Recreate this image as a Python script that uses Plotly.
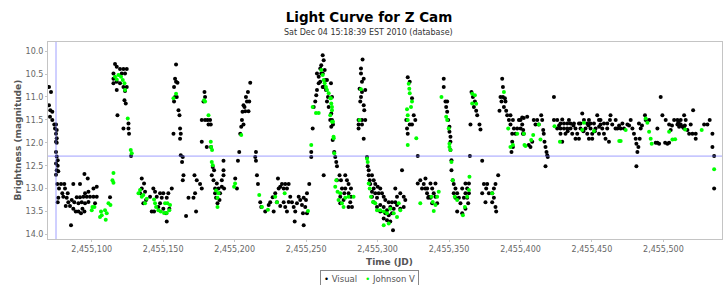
import plotly.graph_objects as go

# ---------------- data ----------------
JD_BASE = 2455000
title_text = "Light Curve for Z Cam"
subtitle_text = "Sat Dec 04 15:18:39 EST 2010 (database)"
series_names = ["Visual", "Johnson V"]
x_tick_start = 2455100
x_tick_step = 50
crosshair_jd = 2455075.0
crosshair_mag = 12.29

# (JD - 2455000, magnitude)
visual_points = [
    (70.1,10.78),(71.5,10.89),(70.1,11.18),(71.0,11.29),(72.4,11.32),(70.8,11.43),(72.4,11.50),(73.8,11.60),(75.0,11.60),(74.3,11.69),
    (75.5,11.72),(75.0,11.80),(75.5,11.90),(75.0,11.98),(75.5,12.00),(75.0,12.20),(75.5,12.30),(76.2,12.38),(75.0,12.45),(76.2,12.50),
    (75.5,12.60),(75.0,12.70),(76.6,12.62),
    (75.9,12.90),(78.5,12.90),(80.8,12.90),(87.1,12.90),(91.8,12.90),(94.9,12.68),(97.2,12.78),(77.1,13.00),(81.3,13.00),(79.4,13.10),
    (83.2,13.10),(76.6,13.20),(80.1,13.18),(82.5,13.20),(76.2,13.30),(83.6,13.30),(86.0,13.25),(89.5,13.19),(91.8,13.19),(94.2,13.18),
    (96.5,13.18),(98.8,13.18),(101.2,13.18),(103.5,13.18),(97.7,13.07),(101.2,13.00),(103.5,12.96),(95.3,13.10),(81.8,13.38),(84.8,13.38),
    (87.8,13.30),(90.7,13.32),(93.0,13.30),(95.3,13.32),(97.7,13.29),(87.1,13.44),(88.8,13.50),(90.7,13.50),(92.5,13.54),(94.9,13.50),
    (93.5,13.44),(85.5,13.80),(112.8,13.19),(102.3,13.32),
    (116.3,10.28),(117.5,10.34),(119.8,10.39),(122.2,10.39),(124.5,10.39),(115.2,10.49),(121.0,10.49),(123.3,10.49),(115.2,10.60),
    (117.5,10.67),(115.2,10.70),(119.8,10.70),(122.2,10.78),(124.5,10.78),(117.5,10.85),(123.3,10.87),(122.9,11.07),(123.8,11.14),
    (118.0,11.40),(125.7,11.58),(122.2,11.69),(125.7,11.69),(126.1,11.80),(127.5,12.29),
    (135.0,12.78),(136.6,12.89),(135.0,13.00),(137.3,13.07),(133.8,13.10),(138.0,13.25),(136.1,13.32),(143.1,13.00),(144.3,13.07),
    (140.8,13.18),(145.5,13.18),(147.8,13.10),(149.0,13.20),(150.1,13.10),(152.5,13.20),(153.6,13.10),(156.0,13.00),(142.0,13.50),
    (143.6,13.50),(146.6,13.40),(150.1,13.44),(152.0,13.54),(152.5,13.72),(154.3,13.44),(147.8,13.32),
    (159.0,10.29),(158.3,10.60),(159.0,10.67),(157.6,10.78),(160.0,10.69),(158.3,11.00),(159.5,11.00),(157.6,11.10),(160.7,11.29),
    (161.4,11.40),(157.2,11.80),(161.8,11.69),(162.3,11.80),(161.8,11.91),(162.3,12.27),(163.7,12.31),(163.2,12.42),(164.2,12.71),
    (163.7,12.82),(167.7,13.20),(166.0,13.60),(171.9,12.71),(173.5,12.82),(175.8,12.90),(177.0,13.00),(172.3,13.10),(171.2,13.20),
    (173.0,13.50),
    (178.9,10.89),(179.3,11.00),(178.2,11.10),(177.0,11.50),(179.3,11.50),(181.0,11.50),(182.8,11.50),(181.7,11.60),(183.3,11.60),
    (177.0,11.98),(180.5,12.09),(183.5,12.09),(184.7,12.53),(184.0,12.71),(185.6,12.60),(185.2,12.82),(187.5,12.89),(186.3,13.00),
    (188.7,13.00),(186.3,13.10),(189.8,13.10),(187.0,13.20),(189.4,13.25),(191.0,12.82),(192.2,12.60),(192.2,12.39),(192.6,13.00),
    (192.2,12.71),(191.0,12.96),(188.0,13.32),
    (201.6,13.00),(200.4,12.78),(202.3,12.39),(203.2,12.20),(203.9,11.80),(204.6,11.65),(205.1,11.50),(206.2,11.60),(205.5,11.32),
    (207.4,11.31),(209.7,11.31),(206.9,11.22),(208.6,11.10),(210.2,11.10),(207.9,11.00),(209.3,10.89),(210.9,10.69),(206.2,11.18),
    (214.9,12.20),(214.4,12.31),(214.9,12.39),(215.6,12.71),(216.3,12.90),(217.9,13.30),(218.6,13.40),(221.4,13.50),(227.3,13.50),
    (223.8,13.36),(224.9,13.30),(226.6,13.19),(228.4,13.10),(230.3,12.78),(230.8,13.00),(231.9,12.96),(233.1,12.90),(234.3,13.00),
    (235.4,12.90),(236.6,13.00),(237.8,12.90),(229.6,13.30),(231.9,13.38),(234.3,13.30),(235.4,13.40),(236.6,13.50),(237.8,13.29),
    (238.9,13.18),(240.1,13.30),(241.3,13.40),(242.0,13.72),(242.4,13.50),(243.6,13.32),(244.8,13.18),(245.9,13.25),(247.1,13.36),
    (247.8,13.54),(248.3,13.80),(249.4,13.40),(249.9,13.25),(250.6,13.10),(252.2,12.90),(250.6,13.54),(248.3,13.20),
    (253.6,12.20),(254.6,11.69),(255.3,11.22),(256.4,11.10),(257.1,10.96),(257.6,10.85),(257.6,10.49),(258.8,10.56),(258.8,10.70),
    (259.9,10.38),(260.6,10.31),(261.6,10.09),(262.3,10.20),(261.6,10.49),(263.0,10.41),(263.4,10.63),(262.3,10.78),(259.9,10.67),
    (264.6,10.63),(260.6,10.49),(261.6,10.78),(263.9,10.85),(265.3,11.00),(264.6,11.10),(265.8,11.22),(266.9,11.50),(267.6,11.65),
    (262.3,12.71),(253.6,12.31),(268.6,11.94),
    (267.4,10.70),(268.1,11.00),(267.6,11.36),(268.1,11.50),(268.8,11.60),(269.7,12.20),(270.4,12.31),(271.1,12.42),(271.6,12.51),
    (273.4,12.71),(271.6,12.82),(274.4,12.82),(277.4,12.71),(278.6,12.82),(279.7,12.90),(281.4,13.00),(277.4,13.00),(275.1,13.00),
    (276.7,13.10),(279.7,13.10),(281.4,13.18),(273.9,13.18),(276.2,13.25),(280.9,13.30),(279.7,13.40),(282.1,13.40),(273.9,13.32),
    (289.5,10.18),(288.4,10.38),(288.4,10.49),(290.3,10.60),(289.1,10.67),(287.4,10.82),(289.1,10.89),(291.4,10.85),(288.4,11.00),
    (287.9,11.10),(290.3,11.18),(290.7,11.29),(286.7,11.50),(289.1,11.50),(291.4,11.50),(286.7,11.60),(289.1,11.60),(286.7,11.69),
    (290.3,11.91),
    (292.6,12.31),(293.1,12.51),(293.8,12.60),(293.8,12.71),(294.5,12.82),(294.9,12.90),(296.1,12.71),(297.3,12.82),(298.4,12.90),
    (297.3,13.00),(300.1,12.96),(301.9,13.00),(296.1,13.07),(298.4,13.10),(300.8,13.10),(303.1,13.10),(296.1,13.18),(299.6,13.20),
    (304.3,13.18),(305.4,13.25),(307.8,13.30),(310.1,13.30),(312.4,13.30),(313.6,13.18),(312.4,13.00),(315.9,13.10),(318.3,13.18),
    (319.4,13.25),(297.3,13.30),(299.6,13.40),(301.9,13.36),(304.3,13.40),(306.6,13.47),(308.9,13.40),(311.3,13.44),(313.6,13.36),
    (315.9,13.44),(318.3,13.40),(301.9,13.50),(305.4,13.54),(307.8,13.58),(310.1,13.54),(306.6,13.69),(308.9,13.72),(310.8,13.91),
    (304.3,13.65),(317.1,12.60),
    (321.1,10.57),(322.5,10.67),(320.1,11.50),(320.6,11.69),(322.5,11.60),(324.1,11.60),(326.4,11.50),(325.3,11.40),(324.1,11.03),
    (321.1,11.80),(328.1,12.29),(328.1,12.89),(329.9,12.82),(332.3,12.90),(333.4,13.00),(331.1,13.00),(334.6,13.10),(335.8,13.18),
    (333.5,12.78),(334.7,13.00),(337.0,12.89),(338.2,13.00),(339.3,13.10),(340.5,12.89),(337.0,13.20),(338.2,13.32),(340.5,13.18),
    (335.4,13.20),(341.7,13.32),
    (346.3,10.60),(346.3,10.78),(347.5,11.10),(348.7,11.10),(348.0,11.22),(348.7,11.32),(349.4,11.50),(350.3,11.65),(350.3,11.76),
    (351.0,11.87),(351.0,11.98),(351.0,12.16),(351.7,12.38),(351.7,12.60),(352.6,12.82),(353.3,12.90),(354.5,13.00),(353.3,13.10),
    (355.7,13.10),(354.5,13.20),(356.9,13.20),(355.7,13.50),(358.0,13.32),(359.2,13.00),(361.5,12.89),(362.7,13.00),(363.9,12.89),
    (361.5,13.10),(363.9,13.10),(360.4,13.20),(362.7,13.20),(361.5,13.44),(359.2,13.54),(363.4,13.32),
    (365.7,10.89),(366.7,11.00),(368.1,11.10),(367.4,11.22),(369.0,11.30),(369.7,11.40),(365.0,11.60),(371.3,11.60),(372.0,11.71),
    (364.6,12.29),(373.2,12.39),
    (374.4,12.90),(376.0,13.00),(376.7,12.90),(373.2,13.10),(377.9,13.10),(380.2,13.10),(381.4,13.00),(382.5,12.90),(381.4,13.20),
    (375.5,13.30),(380.2,13.30),(382.5,13.40),(383.0,13.50),(384.4,12.71),
    (387.2,10.60),(387.7,10.78),(386.0,11.00),(387.7,11.00),(389.1,11.03),(386.7,11.10),(389.5,11.10),(388.4,11.22),(385.3,11.30),
    (390.0,11.30),(390.7,11.40),(393.0,11.40),(391.9,11.50),(394.7,11.50),(398.9,11.50),(401.2,11.45),(393.0,11.60),(395.4,11.69),
    (397.7,11.69),(400.1,11.69),(394.2,11.80),(396.5,11.80),(401.7,11.80),(394.2,11.98),(394.7,12.09),(393.7,12.20),
    (400.0,11.50),(401.2,11.60),(401.9,11.72),(402.3,11.80),(405.8,12.05),(407.0,12.09),(408.2,11.98),(409.3,11.50),(410.5,11.60),
    (411.7,11.50),(412.8,11.60),(414.5,11.40),(415.2,11.50),(415.9,11.72),(416.3,11.80),(416.8,11.98),(417.5,12.09),(418.2,12.20),
    (418.7,12.27),(419.1,12.31),(417.5,12.51),(423.4,11.00),(423.4,11.50),(425.7,11.50),(428.0,11.58),(430.4,11.58),(432.7,11.58),
    (435.0,11.58),(437.4,11.58),(429.2,11.49),(433.9,11.50),(443.2,11.36),(444.4,11.50),(447.9,11.50),(453.7,11.40),(454.9,11.50),
    (456.0,11.60),(463.0,11.40),(462.6,11.50),(464.2,11.60),(466.5,11.69),(425.7,11.69),(428.0,11.69),(430.4,11.69),(432.7,11.69),
    (435.0,11.69),(438.5,11.69),(442.0,11.69),(445.5,11.69),(449.0,11.69),(452.5,11.69),(457.2,11.69),(460.7,11.69),(428.0,11.80),
    (431.5,11.80),(436.2,11.80),(439.7,11.80),(446.7,11.80),(450.2,11.80),(454.9,11.80),(458.4,11.80),(429.2,11.98),(438.5,11.91),
    (440.9,11.91),(447.9,11.91),(450.2,11.91),(459.5,11.91),(461.9,11.98),(404.7,11.43),(402.3,11.46),
    (440.9,11.58),(442.0,11.58),(446.7,11.58),(449.0,11.58),(451.4,11.58),(456.0,11.50),(458.4,11.58),(460.7,11.58),(427.0,11.62),
    (437.0,11.62),(447.5,11.62),(455.0,11.65),(433.0,11.75),(444.0,11.75),(452.0,11.75),
    (466.6,11.50),(467.8,11.69),(470.1,11.69),(472.4,11.69),(471.3,11.58),(474.8,11.60),(477.1,11.50),(478.3,11.69),(479.4,11.80),
    (480.6,11.91),(481.1,12.02),(482.5,12.09),(481.8,12.20),(481.1,12.51),(483.4,11.91),(484.1,11.69),(482.9,11.58),(487.1,11.40),
    (487.6,11.50),(490.0,11.50),(495.8,11.69),(497.0,12.02),(498.1,11.00),(499.3,11.40),(501.6,11.50),(502.8,12.02),(504.0,11.60),
    (505.1,11.72),(507.5,11.50),(509.8,11.50),(512.1,11.50),(514.5,11.40),(515.6,11.50),(509.8,11.60),(512.1,11.60),(514.5,11.69),
    (516.8,11.72),(518.0,11.80),(520.3,11.80),(522.6,11.80),(522.6,11.91),(520.8,11.29),(519.1,11.60),(528.5,11.60),(530.8,11.60),
    (532.4,11.50),(534.3,11.80),(534.3,12.09),(535.5,12.29),(535.5,13.00),(494.6,12.00),(504.0,12.00),(501.2,12.00),(495.8,12.00),
    (511.0,11.65),(513.3,11.65),(515.0,11.62),(476.0,11.62),(469.0,11.62),(485.0,11.62),(506.0,11.62),(510.5,11.55),
]

johnson_v_points = [
    (116.3,10.56),(118.7,10.52),(120.5,10.56),(117.5,10.62),(121.7,10.63),(122.9,10.70),(123.3,10.85),(125.2,11.47),(127.3,12.16),
    (128.0,12.23),(115.2,12.66),(114.5,12.82),(115.2,12.87),(100.5,13.40),(101.9,13.40),(100.0,13.47),(106.5,13.50),(107.0,13.58),
    (105.8,13.62),(109.3,13.47),(110.5,13.54),(109.8,13.68),(111.7,13.32),(113.1,13.36),(132.7,13.10),
    (133.8,13.03),(135.0,13.18),(137.3,13.32),(136.1,13.14),(138.5,13.22),(143.6,13.24),(144.3,13.32),(145.0,13.40),(146.6,13.47),
    (148.3,13.50),(150.6,13.53),(152.5,13.53),(154.3,13.47),(153.0,13.32),(151.3,13.32),(154.8,13.36),(157.2,11.03),(159.0,10.93),
    (178.6,11.07),(179.3,11.10),(181.7,11.40),(183.3,11.98),(183.5,12.09),(184.2,12.16),(184.0,12.42),(184.7,12.49),(187.0,13.04),
    (188.7,13.10),(188.0,13.20),(188.0,13.40),(200.3,12.89),(199.6,12.96),
    (204.6,11.83),(217.2,13.14),(219.1,13.40),(223.3,13.46),(228.4,13.18),(229.6,13.30),(235.0,13.10),(251.3,13.49),(253.6,12.05),
    (254.6,11.22),(256.9,11.35),(258.8,11.35),(260.6,10.41),(261.6,10.52),(262.3,10.63),(263.0,10.70),(263.9,10.78),(264.6,10.85),
    (265.8,10.92),(266.9,11.03),(267.6,11.14),(268.1,11.29),(266.9,11.40),(268.1,11.54),(269.3,11.90),
    (267.4,11.03),(268.1,11.22),(268.8,11.54),(269.2,11.87),(269.7,12.23),(271.1,12.82),(270.4,12.96),(272.0,13.07),(273.9,13.10),
    (272.7,13.25),(275.1,13.32),(277.4,13.20),(279.7,13.18),(283.2,13.18),(276.2,13.40),(287.4,11.50),(288.4,10.83),(292.6,12.35),
    (293.1,12.42),(293.8,12.89),(294.5,13.00),(295.4,13.18),(296.8,13.29),(298.4,13.32),(299.6,13.47),(301.9,13.47),(304.3,13.50),
    (306.6,13.54),(308.9,13.44),(311.3,13.54),(313.6,13.62),(315.9,13.47),(304.3,13.80),(307.8,13.76),(314.8,13.32),(320.6,11.27),
    (321.1,11.40),(321.1,11.50),(321.8,10.71),(322.2,10.82),(322.5,10.92),(324.1,11.10),(323.4,11.22),(321.1,12.05),(327.1,11.90),
    (329.9,13.32),
    (337.7,13.18),(338.6,13.29),(339.3,13.49),(340.5,13.36),(341.7,13.18),(342.8,13.07),(344.7,11.00),(348.0,11.43),(348.7,11.50),
    (349.8,11.69),(350.3,12.02),(350.3,12.09),(351.0,12.16),(351.7,12.42),(352.6,12.82),(354.0,13.18),(355.7,13.25),(359.7,13.58),
    (361.1,13.40),(362.7,13.18),(363.9,13.03),(364.3,12.74),(366.2,10.93),(368.1,10.96),(366.2,11.14),(369.0,11.15),(380.2,13.10),
    (388.4,10.89),(391.4,11.69),(393.0,12.09),(394.7,12.05),(397.7,11.80),(402.8,12.05),
    (402.3,11.80),(403.5,12.07),(407.5,11.94),(408.9,11.83),(412.8,11.60),(414.0,11.93),(423.8,11.64),(427.6,11.98),(443.2,11.72),
    (444.4,11.56),(451.4,11.74),(469.1,11.96),
    (470.1,11.96),(473.6,11.72),(487.6,11.47),(488.8,11.56),(490.0,11.76),(491.1,11.91),(491.8,12.02),(504.0,11.76),(506.3,11.93),
    (508.2,11.92),(515.2,11.71),(526.8,11.72),(535.5,12.58),
]

visual_jd = [JD_BASE + d for d, _ in visual_points]
visual_mag = [m for _, m in visual_points]
jv_jd = [JD_BASE + d for d, _ in johnson_v_points]
jv_mag = [m for _, m in johnson_v_points]

# ---------------- figure ----------------
FONT = "DejaVu Sans"
fig = go.Figure()
fig.add_trace(go.Scatter(x=visual_jd, y=visual_mag, mode="markers", name=series_names[0],
                         marker=dict(color="black", size=4, line=dict(width=0)), showlegend=False))
fig.add_trace(go.Scatter(x=jv_jd, y=jv_mag, mode="markers", name=series_names[1],
                         marker=dict(color="#00ff00", size=4, line=dict(width=0)), showlegend=False))

fig.add_shape(type="line", xref="x", yref="paper", x0=crosshair_jd, x1=crosshair_jd, y0=0, y1=1,
              line=dict(color="rgba(120,120,255,0.7)", width=1))
fig.add_shape(type="line", xref="paper", yref="y", x0=0, x1=1, y0=crosshair_mag, y1=crosshair_mag,
              line=dict(color="rgba(120,120,255,0.7)", width=1))

axis_common = dict(showgrid=False, zeroline=False, showline=True, mirror=True, linecolor="#c4c4c4",
                   linewidth=1, ticks="outside", ticklen=2, tickcolor="#c4c4c4",
                   tickfont=dict(family=FONT, size=8, color="#666666"))
fig.update_xaxes(range=[JD_BASE + 69.4, JD_BASE + 541], tickmode="linear", tick0=x_tick_start,
                 dtick=x_tick_step, tickformat=",d", **axis_common)
fig.update_yaxes(range=[14.1, 9.8], tickmode="linear", tick0=10, dtick=0.5, tickformat=".1f", **axis_common)

legend_text = ("<span style='color:black'>\u2022</span>&nbsp;" + series_names[0] +
               "&nbsp;&nbsp;&nbsp;<span style='color:#00ff00'>\u2022</span>&nbsp;" + series_names[1])

fig.update_layout(
    width=724, height=285,
    margin=dict(l=48, r=2, t=42, b=46),
    paper_bgcolor="white", plot_bgcolor="white",
    title=dict(text="<b>" + title_text + "</b>", x=369 / 724, xref="container", xanchor="center",
               y=1 - 17 / 285, yref="container", yanchor="middle",
               font=dict(family=FONT, size=13.5, color="black")),
    annotations=[
        dict(text=subtitle_text, xref="paper", yref="paper", x=0.475, y=1 + 10 / 197,
             showarrow=False, xanchor="center", yanchor="middle",
             font=dict(family=FONT, size=8, color="#333333")),
        dict(text="<b>Time (JD)</b>", xref="paper", yref="paper", x=0.506, y=-23 / 197,
             showarrow=False, xanchor="center", yanchor="middle",
             font=dict(family=FONT, size=9, color="#555555")),
        dict(text="<b>Brightness (magnitude)</b>", xref="paper", yref="paper", x=-31 / 674, y=0.5,
             textangle=-90, showarrow=False, xanchor="center", yanchor="middle",
             font=dict(family=FONT, size=9, color="#555555")),
        dict(text=legend_text,
             xref="paper", yref="paper", x=321 / 674, y=-40 / 197,
             showarrow=False, xanchor="center", yanchor="middle",
             bordercolor="#888888", borderwidth=1, borderpad=3, bgcolor="white",
             font=dict(family=FONT, size=8.5, color="#555555")),
    ],
)

fig.write_html("out.html", config={"displayModeBar": False},
               post_script="document.body.style.margin='0';document.body.style.padding='0';")
